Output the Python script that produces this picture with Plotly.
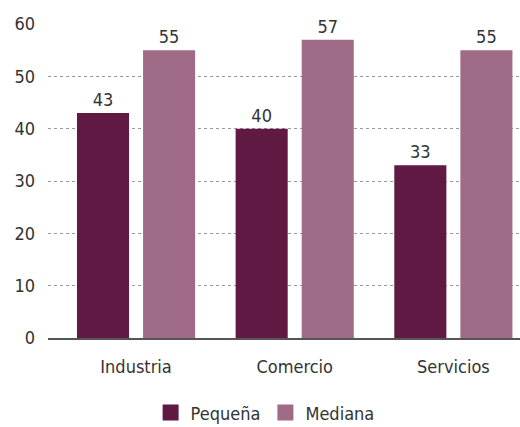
import plotly.graph_objects as go

categories = ["Industria", "Comercio", "Servicios"]
pequena = [43, 40, 33]
mediana = [55, 57, 55]
series_names = ["Pequeña", "Mediana"]
colors = ["#5f1942", "#a06b86"]
y_ticks = [0, 10, 20, 30, 40, 50, 60]

FONT = "DejaVu Sans Condensed, sans-serif"
TXT = "#333333"

fig = go.Figure()
for vals, name, col in zip([pequena, mediana], series_names, colors):
    fig.add_trace(go.Bar(x=categories, y=vals, name=name, showlegend=False,
                         marker=dict(color=col, line=dict(width=0)),
                         text=vals, textposition="outside",
                         textfont=dict(size=18, color=TXT, family=FONT), cliponaxis=False))
for name, col in zip(series_names, colors):
    fig.add_trace(go.Scatter(x=[None], y=[None], mode="markers", name=name,
                             marker=dict(symbol="square", size=18, color=col)))

fig.update_layout(
    width=520, height=427,
    margin=dict(l=48, r=0, t=24, b=89, autoexpand=False),
    paper_bgcolor="white", plot_bgcolor="white",
    barmode="group", bargap=0.167, bargroupgap=0.212,
    font=dict(family=FONT, size=18, color=TXT),
    showlegend=True,
    legend=dict(orientation="h", x=0.46, xanchor="center",
                yref="container", y=0.033, yanchor="middle",
                font=dict(size=18, color=TXT, family=FONT), itemwidth=30,
                traceorder="normal", itemsizing="trace"),
    xaxis=dict(range=[-0.555, 2.42], showgrid=False, showline=True, automargin=False,
               linecolor="#555555", linewidth=1.5, ticks="", ticklen=0,
               ticklabelstandoff=12,
               tickfont=dict(size=18, color=TXT, family=FONT)),
    yaxis=dict(range=[0, 60], tickvals=y_ticks, showgrid=True, automargin=False,
               gridcolor="#999999", griddash="dot", gridwidth=1,
               zeroline=False, showline=False, ticks="",
               ticklabelstandoff=12,
               tickfont=dict(size=18, color=TXT, family=FONT)),
)
fig.write_html("out.html")
